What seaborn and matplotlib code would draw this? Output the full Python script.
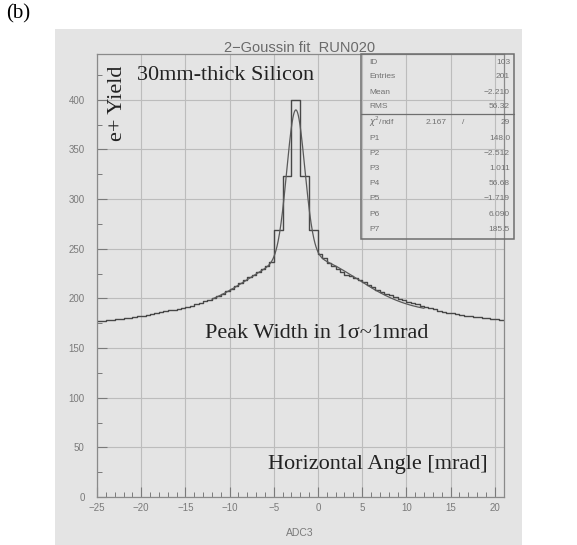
import numpy as np
import pandas as pd
import matplotlib
matplotlib.use("Agg")
import matplotlib.pyplot as plt
from matplotlib.patches import Rectangle
from matplotlib.lines import Line2D
from matplotlib.ticker import MultipleLocator
import seaborn as sns

# ---- data -------------------------------------------------------------
bin_lo, bin_hi, bin_w = -25, 21, 0.5        # ADC3 bins, 0.5 mrad wide
left_tail = [177, 177, 178, 178, 179, 179, 180, 180, 181, 182,
             182, 183, 184, 185, 186, 187, 188, 188, 189, 190,
             191, 192, 194, 195, 197, 198, 200, 202, 204, 207,
             209, 212, 215, 218, 221, 224, 227, 230, 233, 237]
peak_core = [269, 269, 323, 323, 400, 400, 323, 323, 269, 269]
right_tail = [245, 241, 236, 233, 230, 227, 224, 222, 220, 218,
              216, 213, 211, 208, 206, 204, 203, 201, 199, 198,
              196, 195, 194, 192, 191, 190, 189, 187, 186, 185,
              185, 184, 183, 182, 182, 181, 181, 180, 180, 179,
              179, 178]
yield_counts = left_tail + peak_core + right_tail
bin_centers = np.arange(bin_lo, bin_hi, bin_w) + bin_w / 2

# double-Gaussian fit parameters (P1..P7)
fit_params = [148.0, -2.512, 1.011, 56.68, -1.719, 6.090, 185.5]
fit_range = (-12, 12)

stat_labels = ["ID", "Entries", "Mean", "RMS"]
stat_values = ["103", "201", "\u22122.210", "56.32"]
chi2_ndf = ("2.167", "29")
par_labels = ["P1", "P2", "P3", "P4", "P5", "P6", "P7"]
par_values = ["148.0", "\u22122.512", "1.011", "56.68", "\u22121.719", "6.090", "185.5"]

x_ticks = list(range(-25, 21, 5))
y_ticks = list(range(0, 401, 50))

# ---- figure -----------------------------------------------------------
sns.set_theme(style="ticks")
plt.rcParams["font.family"] = ["Liberation Sans", "DejaVu Sans"]

W, H = 577, 545
fig = plt.figure(figsize=(W / 100, H / 100), dpi=100)
fig.patch.set_facecolor("white")

def fx(px):
    return px / W

def fy(py):
    return 1 - py / H

# scanned sheet behind the plot
fig.patches.append(Rectangle((fx(55), 0), fx(522 - 55), 1 - 29 / H,
                             transform=fig.transFigure, facecolor="#e4e4e4",
                             edgecolor="none", zorder=-10))

ax = fig.add_axes([fx(97), fy(497), fx(503.6 - 97), (497 - 54) / H])
ax.set_facecolor("none")
ax.set_zorder(1)

grey = "#7a7a7a"
line_col = "#474747"

df = pd.DataFrame({"angle": bin_centers, "count": yield_counts})
sns.histplot(data=df, x="angle", weights="count", binwidth=bin_w,
             binrange=(bin_lo, bin_hi), element="step", fill=False,
             color=line_col, linewidth=1.0, ax=ax)

p1, p2, p3, p4, p5, p6, p7 = fit_params
xf = np.linspace(fit_range[0], fit_range[1], 600)
yf = (p1 * np.exp(-0.5 * ((xf - p2) / p3) ** 2)
      + p4 * np.exp(-0.5 * ((xf - p5) / p6) ** 2) + p7)
sns.lineplot(x=xf, y=yf, color="#5a5a5a", linewidth=0.9, ax=ax)

ax.set_xlim(-25, 21)
ax.set_ylim(0, 446)
ax.set_xticks(x_ticks)
ax.set_yticks(y_ticks)
ax.xaxis.set_minor_locator(MultipleLocator(1))
ax.yaxis.set_minor_locator(MultipleLocator(25))
ax.grid(True, which="major", color="#bcbcbc", linewidth=0.8)
ax.set_axisbelow(True)
ax.tick_params(which="major", direction="in", length=7, width=0.8,
               color=grey, labelsize=7, labelcolor=grey)
ax.tick_params(axis="y", which="major", pad=9)
ax.tick_params(axis="x", which="major", pad=4)
ax.tick_params(which="minor", direction="in", length=3.5, width=0.7, color=grey)
for s in ax.spines.values():
    s.set_color("#8a8a8a")
    s.set_linewidth(0.9)
ax.set_xlabel("")
ax.set_ylabel("")

# titles and axis names
fig.text(fx(300), fy(48), "2\u2212Goussin fit  RUN020", ha="center", va="center",
         fontsize=10.5, color="#6a6a6a")
fig.text(fx(300), fy(533), "ADC3", ha="center", va="center",
         fontsize=7.5, color=grey)
fig.text(fx(6), fy(14), "(b)", ha="left", va="center",
         fontsize=15, color="black", family="Liberation Serif")

serif = dict(family="Liberation Serif", color="#222222", fontsize=16)
fig.text(fx(137), fy(75), "30mm-thick Silicon", ha="left", va="center", **serif)
fig.text(fx(117), fy(103), "e+ Yield", ha="center", va="center",
         rotation=90, **serif)
fig.text(fx(205), fy(333), "Peak Width in 1\u03c3~1mrad", ha="left",
         va="center", **serif)
fig.text(fx(268), fy(465), "Horizontal Angle [mrad]", ha="left",
         va="center", **serif)

# statistics box
bx0, bx1, by0, by1 = 361, 514, 54, 239
box_col = "#6e6e6e"
fig.add_artist(Rectangle((fx(bx0), fy(by1)), fx(bx1 - bx0), (by1 - by0) / H,
                         transform=fig.transFigure, facecolor="none",
                         edgecolor=box_col, linewidth=1.1, zorder=5))
fig.add_artist(Line2D([fx(bx0), fx(bx1)], [fy(114), fy(114)],
                      transform=fig.transFigure, color=box_col, linewidth=0.9,
                      zorder=5))
st = dict(fontsize=6, color="#727272", va="center")
rows_y = [62, 77, 92, 106]
lab_x, val_x = 369, 510
for lab, val, yy in zip(stat_labels, stat_values, rows_y):
    fig.text(fx(lab_x), fy(yy), lab, ha="left", **st)
    fig.text(fx(val_x), fy(yy), val, ha="right", **st)
fig.text(fx(lab_x), fy(122), r"$\chi^2$/ndf", ha="left", **st)
fig.text(fx(447), fy(122), chi2_ndf[0], ha="right", **st)
fig.text(fx(463), fy(122), "/", ha="center", **st)
fig.text(fx(val_x), fy(122), chi2_ndf[1], ha="right", **st)
for i, (lab, val) in enumerate(zip(par_labels, par_values)):
    yy = 138 + i * 15.2
    fig.text(fx(lab_x), fy(yy), lab, ha="left", **st)
    fig.text(fx(val_x), fy(yy), val, ha="right", **st)

fig.savefig("out.png", dpi=100)
